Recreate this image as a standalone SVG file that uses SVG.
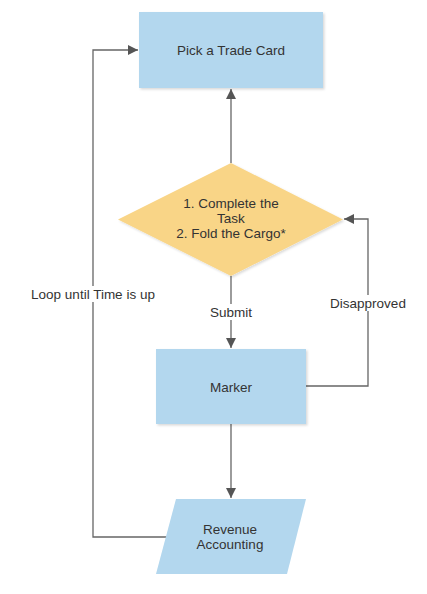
<svg xmlns="http://www.w3.org/2000/svg" width="427" height="594" viewBox="0 0 427 594">
<style>
text{font-family:"Liberation Sans",Arial,sans-serif;font-size:13.5px;fill:#333;text-anchor:middle}
.proc{fill:#b3d7ee}
.dec{fill:#f9d587}
.edge{fill:none;stroke:#666;stroke-width:1.3}
.lbg{fill:#fff}
</style>
<defs>
<marker id="ah" viewBox="0 0 10 10" refX="10" refY="5" markerWidth="10" markerHeight="10" markerUnits="userSpaceOnUse" orient="auto">
<path d="M0,0 L10,5 L0,10 z" fill="#555"/>
</marker>
<filter id="sh" x="-10%" y="-10%" width="130%" height="130%">
<feDropShadow dx="1.5" dy="1.5" stdDeviation="1.2" flood-color="#000" flood-opacity="0.15"/>
</filter>
</defs>
<g id="connectors">
<path class="edge" d="M231,163 V89" marker-end="url(#ah)"/>
<path class="edge" d="M231,276 V348" marker-end="url(#ah)"/>
<path class="edge" d="M306,386 H368 V219 H344" marker-end="url(#ah)"/>
<path class="edge" d="M231,424 V498" marker-end="url(#ah)"/>
<path class="edge" d="M167,537 H93 V50 H138" marker-end="url(#ah)"/>
<rect class="lbg" x="204" y="304" width="54" height="16"/>
<text x="231" y="317">Submit</text>
<rect class="lbg" x="327" y="295" width="82" height="16"/>
<text x="368" y="308">Disapproved</text>
<rect class="lbg" x="28" y="286" width="131" height="16"/>
<text x="93" y="299">Loop until Time is up</text>
</g>
<g id="pick">
<rect class="proc" x="139" y="12" width="184" height="76" filter="url(#sh)"/>
<text x="231" y="55">Pick a Trade Card</text>
</g>
<g id="task">
<polygon class="dec" points="231,163 343,219.5 231,276 118,219.5" filter="url(#sh)"/>
<text x="231" y="208">1. Complete the</text>
<text x="231" y="223">Task</text>
<text x="231" y="238">2. Fold the Cargo*</text>
</g>
<g id="marker">
<rect class="proc" x="156" y="349" width="150" height="75" filter="url(#sh)"/>
<text x="231" y="392">Marker</text>
</g>
<g id="revenue">
<polygon class="proc" points="176,499 306,499 287,574 156,574"/>
<text x="230" y="534">Revenue</text>
<text x="230" y="549">Accounting</text>
</g>
</svg>
